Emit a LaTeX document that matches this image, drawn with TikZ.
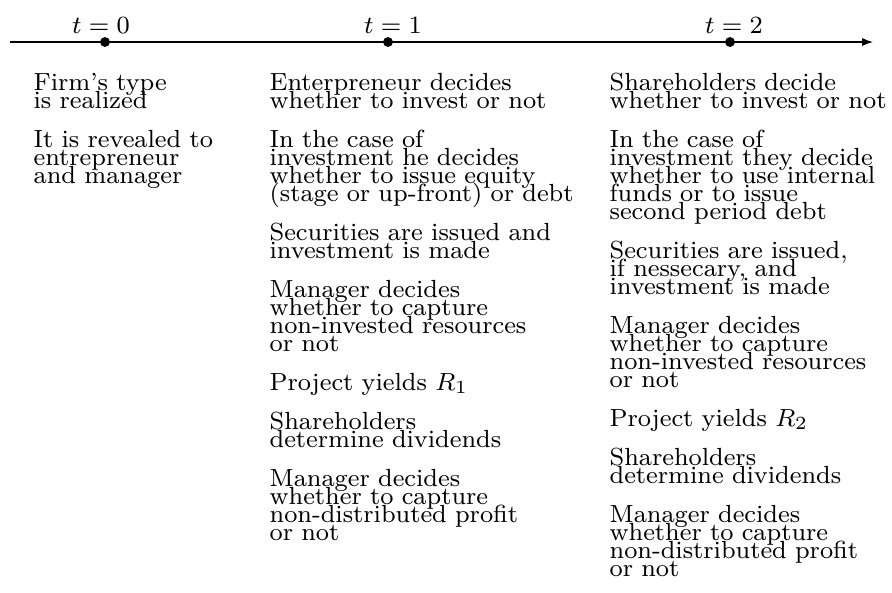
\documentclass[tikz,border=0pt]{standalone}
\usetikzlibrary{arrows.meta}
% successive lines of one event are packed tightly, at a fixed pitch
\lineskiplimit=-\maxdimen
\normallineskiplimit=-\maxdimen
\begin{document}
\begin{tikzpicture}[
  x=0.32258pt, y=-0.32258pt,
  event/.style={anchor=base west, inner sep=0pt, align=left, text width=120pt,
    font=\fontsize{8pt}{5.806pt}\selectfont},
  tickdot/.style={circle, fill=black, inner sep=0pt, minimum size=3.2pt},
  ticklabel/.style={anchor=base, inner sep=0pt, font=\fontsize{8pt}{9.5pt}\selectfont},
  timeline/.style={line width=0.4pt, -{Latex[length=3.5pt,width=2.6pt]}},
]
\useasboundingbox (0,0) rectangle (892,592);

% time axis with the three dates
\coordinate (axisstart) at (10,42);
\coordinate (axisend) at (873,42);
\draw[timeline] (axisstart) -- (axisend);
\node[tickdot] (d0) at (105,42) {};
\node[tickdot] (d1) at (388,42) {};
\node[tickdot] (d2) at (730,42) {};
\node[ticklabel] (t0) at (101,33) {$t=0$};
\node[ticklabel] (t1) at (393,33) {$t=1$};
\node[ticklabel] (t2) at (734,33) {$t=2$};

% events at t = 0
\node[event] (a1) at (33,90) {Firm's type\\is realized};
\node[event] (a2) at (33,147) {It is revealed to\\entrepreneur\\and manager};

% events at t = 1
\node[event] (b1) at (269,90) {Enterpreneur decides\\whether to invest or not};
\node[event] (b2) at (269,147) {In the case of\\investment he decides\\whether to issue equity\\(stage or up-front) or debt};
\node[event] (b3) at (269,240) {Securities are issued and\\investment is made};
\node[event] (b4) at (269,297) {Manager decides\\whether to capture\\non-invested resources\\or not};
\node[event] (b5) at (269,390) {Project yields $R_1$};
\node[event] (b6) at (269,429) {Shareholders\\determine dividends};
\node[event] (b7) at (269,486) {Manager decides\\whether to capture\\non-distributed profit\\or not};

% events at t = 2
\node[event] (c1) at (609,90) {Shareholders decide\\whether to invest or not};
\node[event] (c2) at (609,147) {In the case of\\investment they decide\\whether to use internal\\funds or to issue\\second period debt};
\node[event] (c3) at (609,258) {Securities are issued,\\if nessecary, and\\investment is made};
\node[event] (c4) at (609,333) {Manager decides\\whether to capture\\non-invested resources\\or not};
\node[event] (c5) at (609,426) {Project yields $R_2$};
\node[event] (c6) at (609,465) {Shareholders\\determine dividends};
\node[event] (c7) at (609,522) {Manager decides\\whether to capture\\non-distributed profit\\or not};
\end{tikzpicture}
\end{document}
